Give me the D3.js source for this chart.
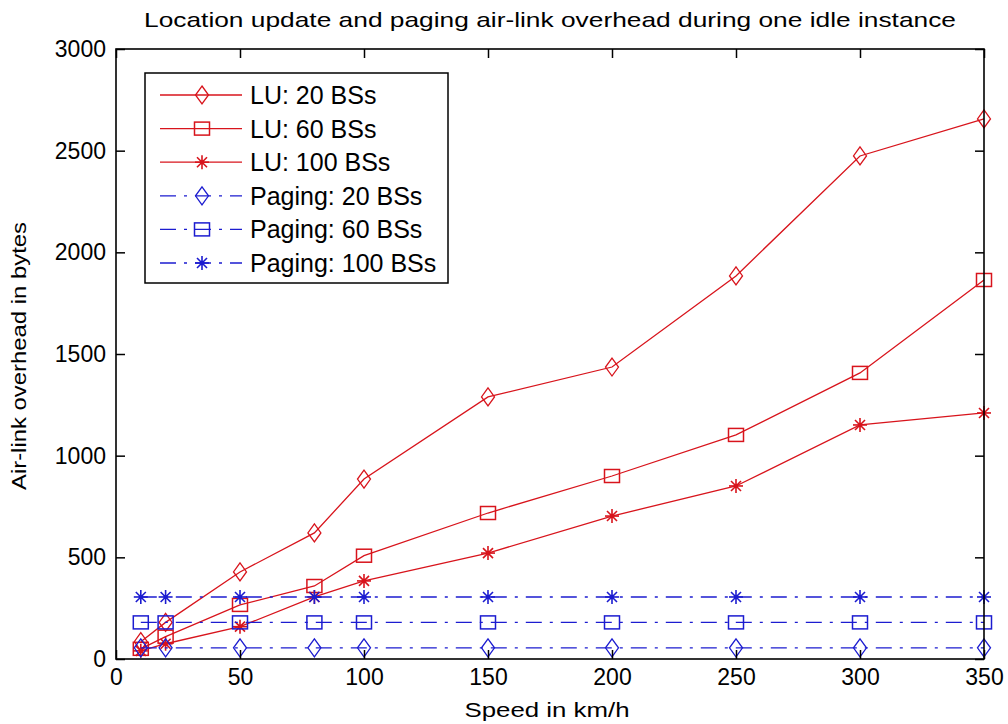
<!DOCTYPE html>
<html>
<head>
<meta charset="utf-8">
<script src="https://cdn.jsdelivr.net/npm/d3@7"></script>
<style>
  html, body { margin: 0; padding: 0; background: #ffffff; }
  svg { display: block; }
  text { font-family: "Liberation Sans", Arial, sans-serif; fill: #000; }
</style>
</head>
<body>
<svg id="chart" width="1008" height="724"></svg>
<script>
// Speeds (km/h) sampled for every series
const speeds = [10, 20, 50, 80, 100, 150, 200, 250, 300, 350];

// Location update overhead (bytes)
const lu20  = [85, 180, 428, 620, 885, 1289, 1436, 1884, 2474, 2656];
const lu60  = [50, 110, 266, 359, 508, 718, 900, 1102, 1407, 1864];
const lu100 = [40, 75, 159, 305, 384, 521, 703, 851, 1151, 1210];

// Paging overhead (bytes), independent of speed
const paging20  = [55, 55, 55, 55, 55, 55, 55, 55, 55, 55];
const paging60  = [180, 180, 180, 180, 180, 180, 180, 180, 180, 180];
const paging100 = [305, 305, 305, 305, 305, 305, 305, 305, 305, 305];

const seriesNames = ["LU: 20 BSs", "LU: 60 BSs", "LU: 100 BSs",
                     "Paging: 20 BSs", "Paging: 60 BSs", "Paging: 100 BSs"];

const xTicks = [0, 50, 100, 150, 200, 250, 300, 350];
const yTicks = [0, 500, 1000, 1500, 2000, 2500, 3000];

const titleText = "Location update and paging air-link overhead during one idle instance";
const xLabelText = "Speed in km/h";
const yLabelText = "Air-link overhead in bytes";

const RED = "#d8141c";
const BLUE = "#1c1cd0";

const series = [
  { name: seriesNames[0], values: lu20,  color: RED,  dash: null, marker: "diamond" },
  { name: seriesNames[1], values: lu60,  color: RED,  dash: null, marker: "square" },
  { name: seriesNames[2], values: lu100, color: RED,  dash: null, marker: "star" },
  { name: seriesNames[3], values: paging20,  color: BLUE, dash: "16,8,3,8", marker: "diamond" },
  { name: seriesNames[4], values: paging60,  color: BLUE, dash: "16,8,3,8", marker: "square" },
  { name: seriesNames[5], values: paging100, color: BLUE, dash: "16,8,3,8", marker: "star" }
];

const svg = d3.select("#chart");
const plotLeft = 116, plotRight = 984, plotTop = 49, plotBottom = 659;

const x = d3.scaleLinear().domain([0, 350]).range([plotLeft, plotRight]);
const y = d3.scaleLinear().domain([0, 3000]).range([plotBottom, plotTop]);

// Marker drawing helpers
function drawMarker(g, type, cx, cy, color) {
  if (type === "diamond") {
    const w = 6.5, h = 9;
    g.append("path")
      .attr("d", `M${cx},${cy - h}L${cx + w},${cy}L${cx},${cy + h}L${cx - w},${cy}Z`)
      .attr("fill", "none").attr("stroke", color).attr("stroke-width", 1.3);
  } else if (type === "square") {
    const w = 7.5, h = 6.5;
    g.append("rect")
      .attr("x", cx - w).attr("y", cy - h).attr("width", 2 * w).attr("height", 2 * h)
      .attr("fill", "none").attr("stroke", color).attr("stroke-width", 1.5);
  } else {
    const r = 7, d = 5;
    const segs = [[0, -r, 0, r], [-r, 0, r, 0], [-d, -d, d, d], [-d, d, d, -d]];
    segs.forEach(s => {
      g.append("line")
        .attr("x1", cx + s[0]).attr("y1", cy + s[1])
        .attr("x2", cx + s[2]).attr("y2", cy + s[3])
        .attr("stroke", color).attr("stroke-width", 1.6);
    });
    g.append("circle").attr("cx", cx).attr("cy", cy).attr("r", 2.2).attr("fill", color);
  }
}

// Axes background
svg.append("rect")
  .attr("x", plotLeft).attr("y", plotTop)
  .attr("width", plotRight - plotLeft).attr("height", plotBottom - plotTop)
  .attr("fill", "#fff").attr("stroke", "none");

// Series lines and markers
const line = d3.line().x((d, i) => x(speeds[i])).y(d => y(d));
series.forEach(s => {
  const g = svg.append("g");
  g.append("path")
    .datum(s.values)
    .attr("d", line)
    .attr("fill", "none")
    .attr("stroke", s.color)
    .attr("stroke-width", 1.3)
    .attr("stroke-dasharray", s.dash);
  s.values.forEach((v, i) => drawMarker(g, s.marker, x(speeds[i]), y(v), s.color));
});

// Axes with inward ticks on all four sides
const tickLen = 9;
const fmt = d3.format("d");
const axB = svg.append("g").attr("transform", `translate(0,${plotBottom})`)
  .call(d3.axisBottom(x).tickValues(xTicks).tickFormat(fmt).tickSizeInner(-tickLen).tickSizeOuter(0).tickPadding(10));
const axT = svg.append("g").attr("transform", `translate(0,${plotTop})`)
  .call(d3.axisTop(x).tickValues(xTicks).tickSizeInner(-tickLen).tickSizeOuter(0).tickFormat(""));
const axL = svg.append("g").attr("transform", `translate(${plotLeft},0)`)
  .call(d3.axisLeft(y).tickValues(yTicks).tickFormat(fmt).tickSizeInner(-tickLen).tickSizeOuter(0).tickPadding(10));
const axR = svg.append("g").attr("transform", `translate(${plotRight},0)`)
  .call(d3.axisRight(y).tickValues(yTicks).tickSizeInner(-tickLen).tickSizeOuter(0).tickFormat(""));

[axB, axT, axL, axR].forEach(a => {
  a.select(".domain").remove();
  a.selectAll(".tick line").attr("stroke", "#000").attr("stroke-width", 1.5);
  a.selectAll(".tick text")
    .style("font-family", '"Liberation Sans", Arial, sans-serif')
    .style("font-size", "23px").attr("fill", "#000");
});

svg.append("rect")
  .attr("x", plotLeft).attr("y", plotTop)
  .attr("width", plotRight - plotLeft).attr("height", plotBottom - plotTop)
  .attr("fill", "none").attr("stroke", "#000").attr("stroke-width", 1.6);

// Title and axis labels
svg.append("text")
  .attr("x", 550).attr("y", 27)
  .attr("text-anchor", "middle")
  .attr("textLength", 812).attr("lengthAdjust", "spacingAndGlyphs")
  .style("font-size", "21px")
  .text(titleText);

svg.append("text")
  .attr("x", 547).attr("y", 717)
  .attr("text-anchor", "middle")
  .attr("textLength", 165).attr("lengthAdjust", "spacingAndGlyphs")
  .style("font-size", "21px")
  .text(xLabelText);

svg.append("text")
  .attr("transform", "translate(26,356) rotate(-90)")
  .attr("text-anchor", "middle")
  .attr("textLength", 268).attr("lengthAdjust", "spacingAndGlyphs")
  .style("font-size", "20px")
  .text(yLabelText);

// Legend
const lg = svg.append("g");
lg.append("rect")
  .attr("x", 145).attr("y", 73).attr("width", 303).attr("height", 210)
  .attr("fill", "#fff").attr("stroke", "#000").attr("stroke-width", 1.5);
const legendY = d3.scalePoint().domain(seriesNames).range([95, 263]);
series.forEach(s => {
  const yy = legendY(s.name);
  lg.append("line")
    .attr("x1", 160).attr("x2", 242).attr("y1", yy).attr("y2", yy)
    .attr("stroke", s.color).attr("stroke-width", 1.3)
    .attr("stroke-dasharray", s.dash);
  drawMarker(lg, s.marker, 202, yy, s.color);
  lg.append("text")
    .attr("x", 250).attr("y", yy)
    .attr("dy", "0.36em")
    .style("font-size", "25px")
    .text(s.name);
});
</script>
</body>
</html>
